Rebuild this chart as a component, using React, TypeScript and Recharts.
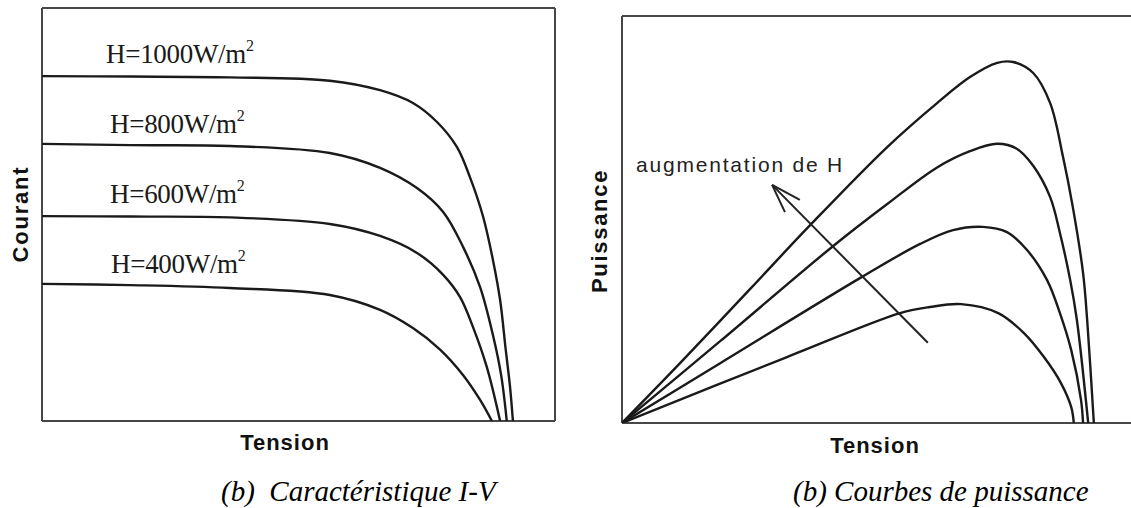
import React from 'react';
import { LineChart, Line, XAxis, YAxis, ReferenceLine, Customized } from 'recharts';

// ---- I-V curves (tension %, courant %) ----
const iv1000 = [[0,83.5],[17.2,83.4],[36.6,83.2],[56.1,82.4],[65.9,80.1],[72.3,77.0],[77.0,72.4],[80.9,66.3],[83.4,59.1],[86.0,49.4],[87.9,39.0],[89.3,29.3],[90.4,17.2],[91.2,8.7],[91.8,0]];
const iv800 = [[0,67.1],[17.2,66.8],[36.6,66.6],[56.1,64.9],[65.9,61.3],[73.1,56.4],[78.2,50.6],[82.1,42.1],[85.4,32.4],[87.9,20.8],[89.5,11.1],[90.6,0]];
const iv600 = [[0,49.6],[17.2,49.5],[36.6,49.3],[56.1,47.7],[65.9,44.8],[73.1,40.7],[78.2,35.4],[81.5,30.0],[84.0,22.8],[86.7,13.1],[89.3,0]];
const iv400 = [[0,33.2],[17.2,32.9],[36.6,32.2],[56.1,30.5],[65.9,26.9],[72.3,22.5],[77.6,17.3],[82.1,11.1],[85.4,5.1],[87.7,0]];

// ---- Power curves (tension %, puissance %) ----
const p1000 = [[0,0],[11.9,15.5],[24.9,32.9],[36.6,48.6],[51.6,67.8],[61.3,78.6],[67.7,85.0],[73.0,88.5],[76.1,88.7],[80.0,86.0],[83.3,78.6],[85.8,65.4],[87.7,53.1],[89.7,36.9],[90.5,25.3],[91.8,0]];
const p800 = [[0,0],[19.1,20.1],[41.1,43.5],[51.6,53.8],[61.3,62.8],[67.7,66.8],[73.0,68.6],[76.8,67.4],[80.0,63.2],[83.3,55.5],[85.2,46.7],[87.2,35.1],[88.5,25.3],[90.7,0]];
const p600 = [[0,0],[19.1,14.7],[46.7,35.9],[58.0,44.0],[64.4,47.4],[70.2,48.2],[74.9,46.9],[78.8,42.5],[82.7,35.1],[85.2,27.0],[87.4,17.9],[89.3,5.7],[89.7,0]];
const p400 = [[0,0],[32.1,16.2],[54.1,27.0],[59.9,28.5],[66.0,29.2],[73.2,27.0],[78.2,22.1],[82.1,16.2],[85.4,9.8],[87.4,3.9],[87.9,0]];

const ivLabels = ['1000', '800', '600', '400'];
const arrowShaft = [{ x: 59.5, y: 19.7 }, { x: 29.2, y: 58.5 }];
const arrowBarbA = [{ x: 29.2, y: 58.5 }, { x: 34.6, y: 54.8 }];
const arrowBarbB = [{ x: 29.2, y: 58.5 }, { x: 31.7, y: 51.8 }];

const toPts = (arr: number[][]) => arr.map(([x, y]) => ({ x, y }));

// centripetal Catmull-Rom curve factory (smooth curve through the points)
const smoothCurve: any = (context: any) => {
  let pts: number[][] = [];
  return {
    areaStart() {},
    areaEnd() {},
    lineStart() { pts = []; },
    point(x: number, y: number) { pts.push([+x, +y]); },
    lineEnd() {
      if (!pts.length) return;
      context.moveTo(pts[0][0], pts[0][1]);
      const eps = 1e-9;
      for (let i = 0; i < pts.length - 1; i++) {
        const p0 = pts[i - 1] || pts[i];
        const p1 = pts[i];
        const p2 = pts[i + 1];
        const p3 = pts[i + 2] || p2;
        const d01 = Math.hypot(p1[0] - p0[0], p1[1] - p0[1]);
        const d12 = Math.hypot(p2[0] - p1[0], p2[1] - p1[1]);
        const d23 = Math.hypot(p3[0] - p2[0], p3[1] - p2[1]);
        const l01a = Math.sqrt(d01), l12a = Math.sqrt(d12), l23a = Math.sqrt(d23);
        let c1x = p1[0], c1y = p1[1], c2x = p2[0], c2y = p2[1];
        if (l01a > eps) {
          const a = 2 * d01 + 3 * l01a * l12a + d12;
          const n = 3 * l01a * (l01a + l12a);
          c1x = (p1[0] * a - p0[0] * d12 + p2[0] * d01) / n;
          c1y = (p1[1] * a - p0[1] * d12 + p2[1] * d01) / n;
        }
        if (l23a > eps) {
          const b = 2 * d23 + 3 * l23a * l12a + d12;
          const m = 3 * l23a * (l23a + l12a);
          c2x = (p2[0] * b + p1[0] * d23 - p3[0] * d12) / m;
          c2y = (p2[1] * b + p1[1] * d23 - p3[1] * d12) / m;
        }
        context.bezierCurveTo(c1x, c1y, c2x, c2y, p2[0], p2[1]);
      }
    },
  };
};

const CURVE = '#1a1a1a';
const BOX = '#474747';
const SERIF = '"Liberation Serif", "Times New Roman", serif';
const SANS = '"Liberation Sans", Arial, sans-serif';

const labelPos = [
  { x: 106, y: 63 },
  { x: 110, y: 133 },
  { x: 110, y: 203 },
  { x: 111, y: 273 },
];

const LeftTexts = () => (
  <g>
    {ivLabels.map((v, i) => (
      <text key={v} x={labelPos[i].x} y={labelPos[i].y} fontFamily={SERIF} fontSize={27} fill="#1a1a1a" letterSpacing={-0.3}>
        {`H=${v}W/m`}
        <tspan fontSize={16} dy={-12}>2</tspan>
      </text>
    ))}
    <text x={20} y={214} transform="rotate(-90 20 214)" textAnchor="middle" dominantBaseline="central" fontFamily={SANS} fontWeight="bold" fontSize={22} letterSpacing={1.8} fill="#111">Courant</text>
    <text x={285} y={450} textAnchor="middle" fontFamily={SANS} fontWeight="bold" fontSize={22} letterSpacing={1} fill="#111">Tension</text>
    <text x={221} y={501} fontFamily={SERIF} fontStyle="italic" fontSize={29} fill="#000" style={{ whiteSpace: 'pre' }}>{'(b)  Caractéristique I-V'}</text>
  </g>
);

const RightTexts = () => (
  <g>
    <text x={76} y={172} fontFamily={SANS} fontSize={21} letterSpacing={1.8} fill="#222">augmentation de H</text>
    <text x={39} y={231} transform="rotate(-90 39 231)" textAnchor="middle" dominantBaseline="central" fontFamily={SANS} fontWeight="bold" fontSize={22} letterSpacing={1.7} fill="#111">Puissance</text>
    <text x={315} y={453} textAnchor="middle" fontFamily={SANS} fontWeight="bold" fontSize={22} letterSpacing={1} fill="#111">Tension</text>
    <text x={233} y={501} fontFamily={SERIF} fontStyle="italic" fontSize={29} fill="#000">(b) Courbes de puissance</text>
  </g>
);

const frame = { stroke: BOX, strokeWidth: 2, ifOverflow: 'visible' as const };

export default function App() {
  const ivSeries = [iv1000, iv800, iv600, iv400];
  const pSeries = [p1000, p800, p600, p400];
  return (
    <div style={{ position: 'fixed', left: 0, top: 0, width: 1131, height: 508, overflow: 'hidden', background: '#fff' }}>
      <div style={{ position: 'absolute', left: 0, top: 0 }}>
        <LineChart width={560} height={508} margin={{ top: 8, right: 5, bottom: 87, left: 42 }}>
          <XAxis type="number" dataKey="x" domain={[0, 100]} hide allowDataOverflow />
          <YAxis type="number" dataKey="y" domain={[0, 100]} hide allowDataOverflow />
          <ReferenceLine x={0} {...frame} />
          <ReferenceLine x={100} {...frame} />
          <ReferenceLine y={0} {...frame} />
          <ReferenceLine y={100} {...frame} />
          {ivSeries.map((s, i) => (
            <Line key={i} data={toPts(s)} dataKey="y" type={smoothCurve} stroke={CURVE} strokeWidth={2.4} dot={false} activeDot={false} isAnimationActive={false} />
          ))}
          <Customized component={LeftTexts} />
        </LineChart>
      </div>
      <div style={{ position: 'absolute', left: 560, top: 0 }}>
        <LineChart width={590} height={508} margin={{ top: 16, right: 14, bottom: 85, left: 62 }}>
          <XAxis type="number" dataKey="x" domain={[0, 100]} hide allowDataOverflow />
          <YAxis type="number" dataKey="y" domain={[0, 100]} hide allowDataOverflow />
          <ReferenceLine x={0} {...frame} />
          <ReferenceLine y={0} {...frame} />
          <ReferenceLine y={100} {...frame} />
          {pSeries.map((s, i) => (
            <Line key={i} data={toPts(s)} dataKey="y" type={smoothCurve} stroke={CURVE} strokeWidth={2.4} dot={false} activeDot={false} isAnimationActive={false} />
          ))}
          <ReferenceLine segment={arrowShaft} stroke="#222" strokeWidth={2} ifOverflow="visible" />
          <ReferenceLine segment={arrowBarbA} stroke="#222" strokeWidth={2} ifOverflow="visible" />
          <ReferenceLine segment={arrowBarbB} stroke="#222" strokeWidth={2} ifOverflow="visible" />
          <Customized component={RightTexts} />
        </LineChart>
      </div>
    </div>
  );
}
